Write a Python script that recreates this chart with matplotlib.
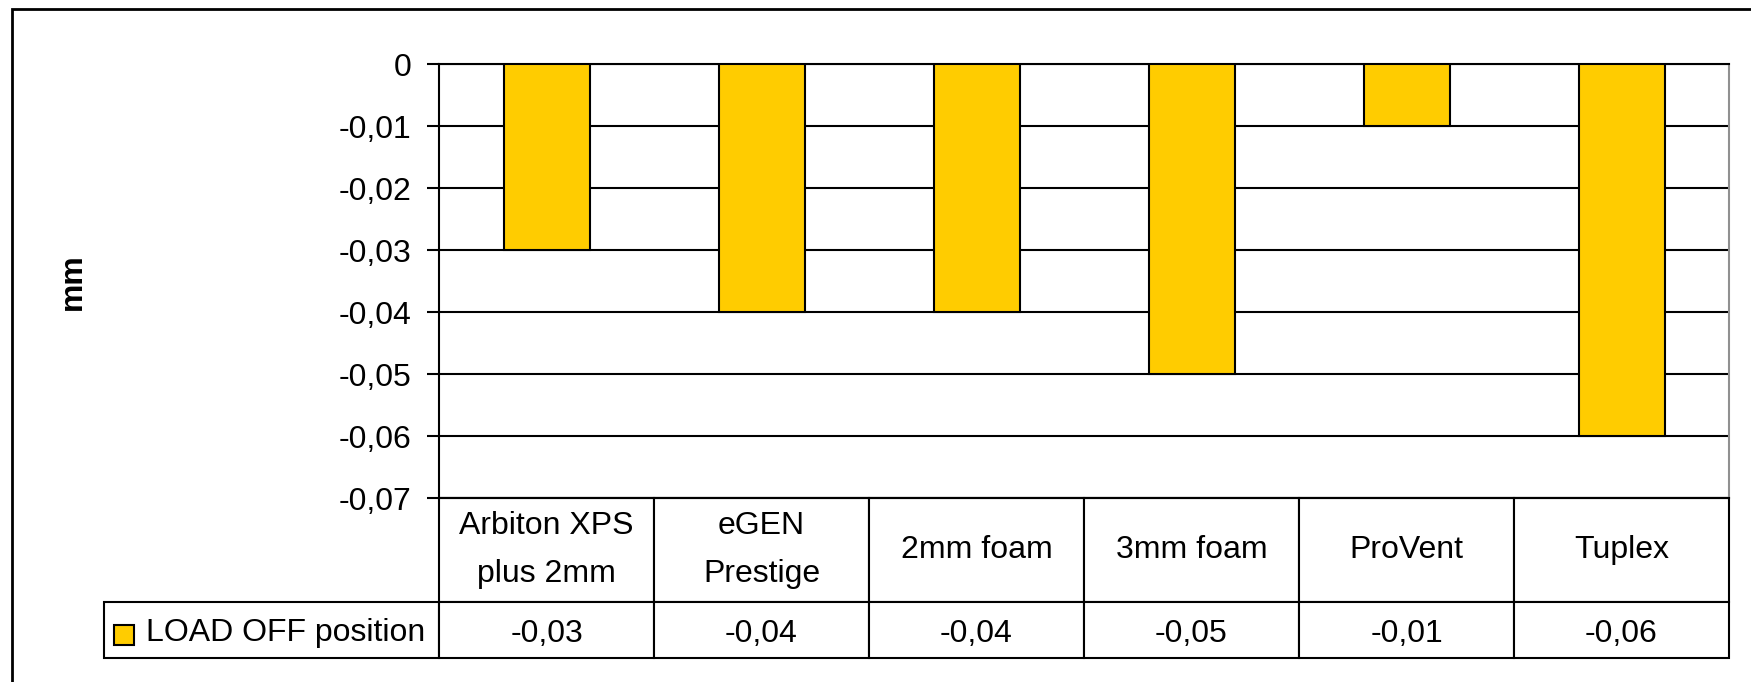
import matplotlib
matplotlib.use('Agg')
import matplotlib.pyplot as plt
from matplotlib.patches import Rectangle
from matplotlib.table import Table

categories = ['Arbiton XPS\nplus 2mm', 'eGEN\nPrestige', '2mm foam', '3mm foam', 'ProVent', 'Tuplex']
load_off = [-0.03, -0.04, -0.04, -0.05, -0.01, -0.06]
value_labels = ['-0,03', '-0,04', '-0,04', '-0,05', '-0,01', '-0,06']
series_name = 'LOAD OFF position'
y_ticks = [0, -0.01, -0.02, -0.03, -0.04, -0.05, -0.06, -0.07]
y_tick_labels = ['0', '-0,01', '-0,02', '-0,03', '-0,04', '-0,05', '-0,06', '-0,07']

plt.rcParams['font.family'] = ['Liberation Sans', 'DejaVu Sans']
bar_color = '#FFCC00'
fs = 23

W, H = 1751, 682
fig = plt.figure(figsize=(W / 100, H / 100), dpi=100)

# plot area in pixels of the reference
left, right, top, bottom = 439, 1729, 64, 498
ax = fig.add_axes([left / W, 1 - bottom / H, (right - left) / W, (bottom - top) / H])

x = range(len(load_off))
ax.bar(x, load_off, width=0.4, color=bar_color, edgecolor='black', linewidth=1.5, zorder=3)
ax.set_xlim(-0.5, len(load_off) - 0.5)
ax.set_ylim(-0.07, 0)
ax.set_yticks(y_ticks)
ax.set_yticklabels(y_tick_labels)
ax.set_xticks([])
ax.yaxis.grid(True, color='black', linewidth=1.5)
ax.set_axisbelow(True)
ax.tick_params(axis='y', direction='out', length=8.6, width=1.5, labelsize=fs, pad=11)
for side in ['left', 'top', 'bottom']:
    ax.spines[side].set_color('black')
    ax.spines[side].set_linewidth(1.5)
ax.spines['right'].set_color('#909090')
ax.spines['right'].set_linewidth(1.5)

# data table under the axis
ax_h = bottom - top
hdr_h = 104 / ax_h
val_h = 56 / ax_h
lab_w = (left - 104) / (right - left)
col_w = 1 / len(categories)

tbl = Table(ax, bbox=[0, -(hdr_h + val_h), 1, hdr_h + val_h])
for j, cat in enumerate(categories):
    c = tbl.add_cell(0, j, width=col_w, height=hdr_h, text=cat, loc='center')
    c.get_text().set_linespacing(1.75)
    v = tbl.add_cell(1, j, width=col_w, height=val_h, text=value_labels[j], loc='center')
    v.get_text().set_verticalalignment('center_baseline')
lab = tbl.add_cell(1, -1, width=lab_w, height=val_h, text=series_name, loc='left')
lab.PAD = 0.125
lab.get_text().set_verticalalignment('center_baseline')
tbl.auto_set_font_size(False)
tbl.set_fontsize(fs)
for cell in tbl.get_celld().values():
    cell.set_linewidth(1.5)
    cell.set_edgecolor('black')
ax.add_table(tbl)

# legend key in the row label cell
key = 20
ax.add_patch(Rectangle(((114 - left) / (right - left), (bottom - 645) / ax_h),
                       key / (right - left), key / ax_h, transform=ax.transAxes,
                       facecolor=bar_color, edgecolor='black', linewidth=1.5, clip_on=False))

fig.text(73 / W, 1 - 282 / H, 'mm', rotation=90, fontweight='bold', fontsize=fs,
         ha='center', va='center')

# chart border
fig.add_artist(Rectangle((12 / W, -0.1), 1.2, 1 - 9 / H + 0.1, transform=fig.transFigure,
                         fill=False, edgecolor='black', linewidth=2))

fig.savefig('out.png', dpi=100)
